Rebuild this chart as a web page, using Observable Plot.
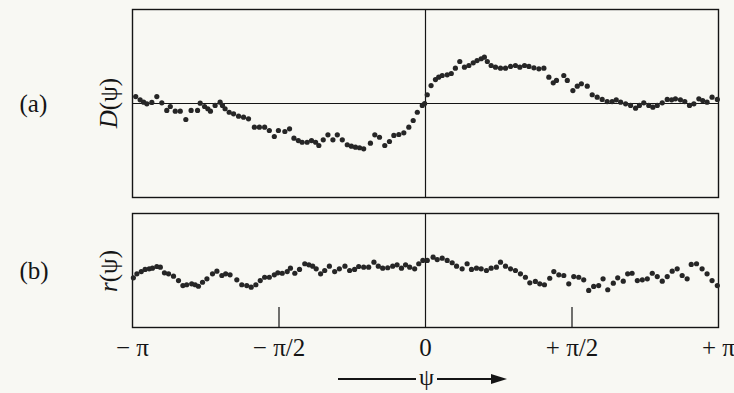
<!DOCTYPE html>
<html>
<head>
<meta charset="utf-8">
<script src="https://cdn.jsdelivr.net/npm/d3@7"></script>
<script src="https://cdn.jsdelivr.net/npm/@observablehq/plot@0.6"></script>
<style>
  html, body { margin: 0; padding: 0; background: #f8f8f3; }
  #wrap { position: relative; width: 734px; height: 393px; overflow: hidden; font-family: "Liberation Serif", "DejaVu Serif", serif; color: #151515; }
  #pa, #pb { position: absolute; left: 0; }
  #pa { top: 0; }
  #pb { top: 200px; }
  .ylab { position: absolute; font-size: 25px; line-height: 25px; white-space: nowrap; transform: translate(-50%, -50%) rotate(-90deg); }
  .ylab i { font-style: italic; }
  #arrow { position: absolute; top: 364px; left: 338px; width: 184px; height: 26px; display: flex; align-items: center; }
  #arrow .ln { height: 1.3px; background: #151515; margin-top: 4px; }
  #arrow .psi { font-size: 24px; line-height: 26px; padding: 0 3px; }
  #arrow .head { width: 0; height: 0; margin-top: 4px; border-top: 5px solid transparent; border-bottom: 5px solid transparent; border-left: 16px solid #151515; }
</style>
</head>
<body>
<div id="wrap">
  <div id="pa"></div>
  <div id="pb"></div>
  <div class="ylab" style="left:108px; top:103px"><i>D</i>(ψ)</div>
  <div class="ylab" style="left:108px; top:271px"><i>r</i>(ψ)</div>
  <div id="arrow"><div class="ln" style="width:78px"></div><div class="psi">ψ</div><div class="ln" style="width:54px"></div><div class="head"></div></div>
</div>
<script>
// psi in units of pi (−1 … +1)
const psiA = [-0.989,-0.974,-0.962,-0.951,-0.934,-0.917,-0.900,-0.883,-0.871,-0.854,-0.837,-0.818,-0.800,-0.778,-0.769,-0.754,-0.743,-0.734,-0.718,-0.701,-0.693,-0.684,-0.670,-0.655,-0.638,-0.621,-0.604,-0.584,-0.567,-0.549,-0.533,-0.516,-0.502,-0.480,-0.464,-0.449,-0.434,-0.421,-0.404,-0.389,-0.375,-0.364,-0.349,-0.333,-0.316,-0.301,-0.284,-0.267,-0.253,-0.239,-0.225,-0.211,-0.188,-0.173,-0.157,-0.139,-0.123,-0.108,-0.091,-0.074,-0.057,-0.042,-0.028,-0.011,-0.003,0.006,0.019,0.034,0.045,0.057,0.074,0.088,0.102,0.117,0.133,0.148,0.163,0.176,0.190,0.201,0.211,0.224,0.239,0.256,0.273,0.290,0.307,0.322,0.338,0.353,0.370,0.387,0.404,0.421,0.436,0.447,0.472,0.484,0.503,0.518,0.532,0.552,0.569,0.586,0.603,0.620,0.637,0.651,0.666,0.683,0.700,0.717,0.730,0.745,0.762,0.776,0.791,0.808,0.825,0.840,0.853,0.870,0.885,0.901,0.916,0.933,0.946,0.961,0.978,0.996];
const dA = [0.074,0.039,0.014,-0.003,0.011,0.074,0.007,-0.074,-0.032,-0.082,-0.082,-0.170,-0.074,-0.074,0.003,-0.032,-0.056,-0.082,-0.021,0.014,-0.021,-0.056,-0.093,-0.110,-0.135,-0.146,-0.163,-0.252,-0.252,-0.252,-0.287,-0.351,-0.287,-0.298,-0.269,-0.369,-0.394,-0.412,-0.412,-0.394,-0.412,-0.447,-0.386,-0.333,-0.386,-0.333,-0.386,-0.439,-0.454,-0.465,-0.471,-0.482,-0.422,-0.333,-0.359,-0.447,-0.404,-0.340,-0.330,-0.312,-0.252,-0.181,-0.093,-0.021,0.000,0.093,0.191,0.255,0.280,0.298,0.305,0.319,0.376,0.447,0.386,0.404,0.433,0.457,0.476,0.493,0.447,0.404,0.386,0.376,0.376,0.394,0.404,0.386,0.404,0.394,0.380,0.369,0.376,0.280,0.220,0.245,0.298,0.245,0.138,0.184,0.210,0.184,0.093,0.067,0.043,0.021,0.021,0.039,0.014,-0.003,-0.021,-0.050,-0.021,0.007,-0.021,-0.039,-0.021,0.007,0.043,0.039,0.050,0.039,0.021,-0.021,-0.003,0.050,0.032,0.014,0.067,0.043];

const psiB = [-0.997,-0.985,-0.970,-0.957,-0.943,-0.932,-0.917,-0.905,-0.891,-0.877,-0.860,-0.843,-0.828,-0.815,-0.798,-0.786,-0.775,-0.761,-0.746,-0.727,-0.712,-0.695,-0.682,-0.667,-0.644,-0.627,-0.610,-0.595,-0.579,-0.564,-0.549,-0.533,-0.516,-0.504,-0.489,-0.472,-0.461,-0.446,-0.430,-0.412,-0.398,-0.385,-0.373,-0.358,-0.344,-0.328,-0.310,-0.294,-0.275,-0.259,-0.242,-0.228,-0.211,-0.194,-0.176,-0.161,-0.146,-0.129,-0.112,-0.097,-0.082,-0.068,-0.054,-0.037,-0.023,-0.009,0.006,0.026,0.040,0.057,0.074,0.091,0.106,0.125,0.142,0.157,0.174,0.190,0.208,0.224,0.242,0.256,0.273,0.290,0.307,0.324,0.341,0.356,0.375,0.390,0.406,0.424,0.438,0.455,0.472,0.489,0.506,0.523,0.540,0.557,0.574,0.591,0.606,0.622,0.641,0.656,0.675,0.690,0.705,0.723,0.740,0.757,0.774,0.791,0.808,0.825,0.842,0.859,0.876,0.893,0.907,0.925,0.944,0.961,0.978,0.996];
const rB = [0.436,0.471,0.491,0.509,0.515,0.520,0.535,0.529,0.480,0.471,0.450,0.412,0.368,0.375,0.383,0.375,0.362,0.397,0.427,0.471,0.494,0.456,0.471,0.462,0.418,0.375,0.368,0.354,0.375,0.412,0.441,0.441,0.462,0.480,0.476,0.491,0.520,0.476,0.509,0.559,0.550,0.538,0.515,0.471,0.500,0.538,0.491,0.515,0.538,0.500,0.509,0.535,0.529,0.529,0.573,0.538,0.520,0.524,0.538,0.550,0.520,0.550,0.529,0.515,0.559,0.588,0.588,0.617,0.596,0.608,0.588,0.568,0.538,0.515,0.559,0.509,0.520,0.515,0.500,0.520,0.529,0.573,0.538,0.515,0.500,0.471,0.441,0.392,0.404,0.383,0.375,0.432,0.491,0.462,0.456,0.383,0.447,0.441,0.418,0.325,0.360,0.368,0.427,0.331,0.389,0.436,0.406,0.471,0.476,0.412,0.418,0.427,0.476,0.447,0.406,0.447,0.494,0.515,0.456,0.427,0.553,0.559,0.515,0.471,0.412,0.368];

const tickValues = [-1, -0.5, 0, 0.5, 1];
const tickLabels = ["− π", "− π/2", "0", "+ π/2", "+ π"];
const bTicks = [-0.5, 0.5];

const dataA = psiA.map((p, i) => ({psi: p, d: dA[i]}));
const dataB = psiB.map((p, i) => ({psi: p, r: rB[i]}));
const ticks = tickValues.map((v, i) => ({v, label: tickLabels[i]}));

const font = "Liberation Serif, DejaVu Serif, serif";
const ink = "#151515";
const dotFill = "#262626";

const plotA = Plot.plot({
  width: 734, height: 200,
  marginLeft: 132, marginRight: 16, marginTop: 9, marginBottom: 3,
  style: {background: "transparent", fontFamily: font, color: ink},
  x: {domain: [-1, 1], axis: null},
  y: {domain: [-1, 1], axis: null},
  marks: [
    Plot.ruleY([0], {stroke: ink, strokeWidth: 1.2}),
    Plot.ruleX([0], {stroke: ink, strokeWidth: 1.2}),
    Plot.frame({stroke: ink, strokeWidth: 1.4}),
    Plot.dot(dataA, {x: "psi", y: "d", r: 2.6, fill: dotFill, stroke: "none"}),
    Plot.text(["(a)"], {frameAnchor: "left", dx: -113, fontSize: 25, fill: ink})
  ]
});
document.getElementById("pa").appendChild(plotA);

const plotB = Plot.plot({
  width: 734, height: 193,
  marginLeft: 132, marginRight: 16, marginTop: 13, marginBottom: 66,
  style: {background: "transparent", fontFamily: font, color: ink, overflow: "visible"},
  x: {domain: [-1, 1], axis: null},
  y: {domain: [0, 1], axis: null},
  marks: [
    Plot.ruleX([0], {stroke: ink, strokeWidth: 1.2}),
    Plot.ruleX(bTicks, {stroke: ink, strokeWidth: 1.2, insetTop: 94}),
    Plot.frame({stroke: ink, strokeWidth: 1.4}),
    Plot.dot(dataB, {x: "psi", y: "r", r: 2.6, fill: dotFill, stroke: "none"}),
    Plot.text(ticks, {x: "v", text: "label", frameAnchor: "bottom", dy: 28, fontSize: 25, fill: ink}),
    Plot.text(["(b)"], {frameAnchor: "left", dx: -113, fontSize: 25, fill: ink})
  ]
});
document.getElementById("pb").appendChild(plotB);
</script>
</body>
</html>
